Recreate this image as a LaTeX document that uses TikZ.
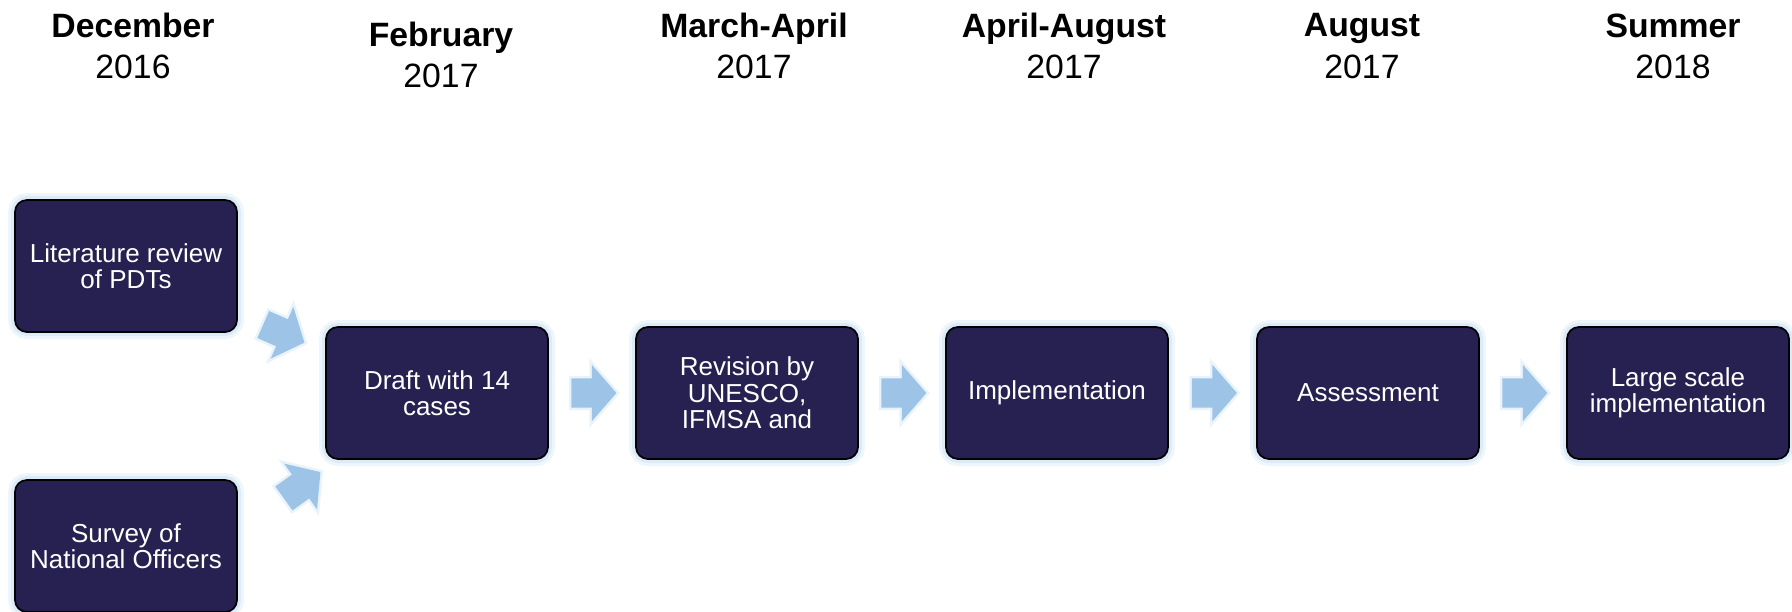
\documentclass[tikz,border=0pt]{standalone}
\usepackage{fontspec}
\setmainfont{Liberation Sans}
\usetikzlibrary{shapes.arrows,calc}

\definecolor{boxnavy}{RGB}{38,33,80}
\definecolor{arrowblue}{RGB}{157,195,230}
\definecolor{glowblue}{RGB}{200,224,245}

\begin{document}
\begin{tikzpicture}[
	stage/.style={draw=black,line width=0.5pt,fill=boxnavy,rounded corners=0.12cm,
		minimum width=2.22cm,minimum height=1.32cm,text=white,align=center,
		font=\fontsize{7.4}{7.5}\selectfont,
		preaction={draw=glowblue,opacity=0.3,line width=0.14cm},
		preaction={draw=glowblue,opacity=0.5,line width=0.08cm}},
	flow/.style={single arrow,fill=arrowblue,draw=none,inner sep=0.14cm,
		minimum height=0.45cm,single arrow head extend=0.135cm,
		single arrow tip angle=98,
		preaction={draw=glowblue,opacity=0.4,line width=0.05cm}},
	date/.style={align=center,font=\fontsize{9.6}{11.7}\selectfont}]

	\useasboundingbox (0,0) rectangle (17.92,6.11);

	%start boxes
	\node[stage] (lit) at (1.26,3.45) {Literature review\\of PDTs};
	\node[stage] (survey) at (1.26,0.65) {Survey of\\National Officers};

	%main line
	\node[stage] (draft) at (4.37,2.18) {Draft with 14\\cases};
	\node[stage] (revision) at (7.47,2.18) {Revision by\\UNESCO,\\IFMSA and};
	\node[stage] (impl) at (10.57,2.18) {Implementation};
	\node[stage] (assess) at (13.68,2.18) {Assessment};
	\node[stage] (large) at (16.78,2.18) {Large scale\\implementation};

	%arrows
	\node[flow,rotate=-23.6] (lit-draft) at (2.78,2.80) {};
	\node[flow,rotate=35.8] (survey-draft) at (2.97,1.22) {};
	\foreach \a/\b in {draft/revision,revision/impl,impl/assess,assess/large}
		\node[flow,xshift=-0.045cm] (\a-\b) at ($(\a.east)!0.5!(\b.west)$) {};

	%dates
	\node[date] (dec16) at (1.33,5.65) {\textbf{December}\\2016};
	\node[date] (feb17) at (4.41,5.56) {\textbf{February}\\2017};
	\node[date] (mar17) at (7.54,5.65) {\textbf{March-April}\\2017};
	\node[date] (apr17) at (10.64,5.65) {\textbf{April-August}\\2017};
	\node[date] (aug17) at (13.62,5.65) {\textbf{August}\\2017};
	\node[date] (sum18) at (16.73,5.65) {\textbf{Summer}\\2018};
\end{tikzpicture}
\end{document}
